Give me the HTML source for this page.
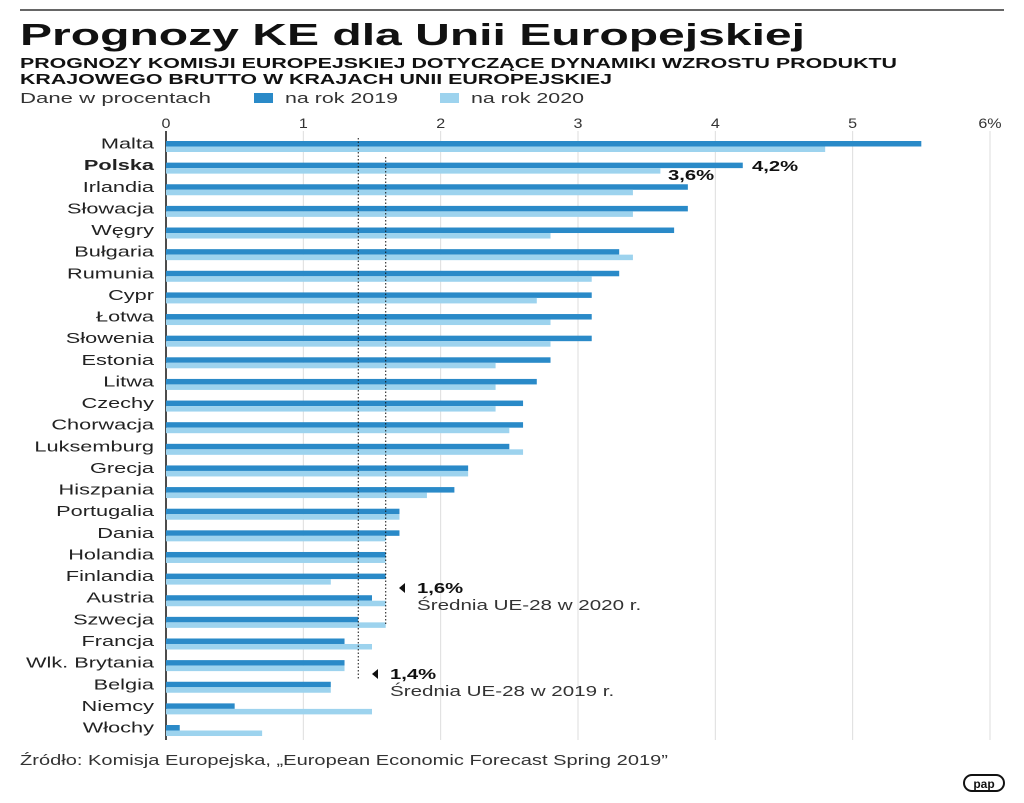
<!DOCTYPE html>
<html><head><meta charset="utf-8"><style>
body{margin:0;background:#fff;font-family:"Liberation Sans",sans-serif;}
svg text{font-family:"Liberation Sans",sans-serif;}
</style></head><body>
<svg width="1024" height="798" xmlns="http://www.w3.org/2000/svg">
<line x1="20" y1="10" x2="1004" y2="10" stroke="#333" stroke-width="1.5"/>
<text x="20" y="45" font-size="31" font-weight="bold" fill="#111" textLength="785" lengthAdjust="spacingAndGlyphs">Prognozy KE dla Unii Europejskiej</text>
<text x="20" y="68" font-size="14.5" font-weight="bold" fill="#111" textLength="877" lengthAdjust="spacingAndGlyphs">PROGNOZY KOMISJI EUROPEJSKIEJ DOTYCZĄCE DYNAMIKI WZROSTU PRODUKTU</text>
<text x="20" y="84" font-size="14.5" font-weight="bold" fill="#111" textLength="592" lengthAdjust="spacingAndGlyphs">KRAJOWEGO BRUTTO W KRAJACH UNII EUROPEJSKIEJ</text>
<text x="20" y="103" font-size="14.5" fill="#333" textLength="191" lengthAdjust="spacingAndGlyphs">Dane w procentach</text>
<rect x="254" y="93" width="19" height="10" fill="#2a8ac8"/>
<text x="285" y="103" font-size="14.5" fill="#333" textLength="113" lengthAdjust="spacingAndGlyphs">na rok 2019</text>
<rect x="440" y="93" width="19" height="10" fill="#9dd3ee"/>
<text x="471" y="103" font-size="14.5" fill="#333" textLength="113" lengthAdjust="spacingAndGlyphs">na rok 2020</text>
<g id="plot"></g>
<text x="20" y="765" font-size="14.5" fill="#333" textLength="648" lengthAdjust="spacingAndGlyphs">Źródło: Komisja Europejska, „European Economic Forecast Spring 2019”</text>
<rect x="964" y="775" width="40" height="16" rx="8" fill="none" stroke="#111" stroke-width="2"/>
<text x="984" y="788" font-size="12" font-weight="bold" text-anchor="middle" fill="#111">pap</text>
</svg>
<script>
const countries=["Malta","Polska","Irlandia","Słowacja","Węgry","Bułgaria","Rumunia","Cypr","Łotwa","Słowenia","Estonia","Litwa","Czechy","Chorwacja","Luksemburg","Grecja","Hiszpania","Portugalia","Dania","Holandia","Finlandia","Austria","Szwecja","Francja","Wlk. Brytania","Belgia","Niemcy","Włochy"];
const v2019=[5.5,4.2,3.8,3.8,3.7,3.3,3.3,3.1,3.1,3.1,2.8,2.7,2.6,2.6,2.5,2.2,2.1,1.7,1.7,1.6,1.6,1.5,1.4,1.3,1.3,1.2,0.5,0.1];
const v2020=[4.8,3.6,3.4,3.4,2.8,3.4,3.1,2.7,2.8,2.8,2.4,2.4,2.4,2.5,2.6,2.2,1.9,1.7,1.6,1.6,1.2,1.6,1.6,1.5,1.3,1.2,1.5,0.7];
const ticks=[0,1,2,3,4,5,6];
const tickLabels=["0","1","2","3","4","5","6%"];
const avg2019=1.4, avg2020=1.6;
const NS="http://www.w3.org/2000/svg";
const g=document.getElementById("plot");
const x=v=>166+v*137.33;
const y=i=>143.5+i*21.63;
function mk(t,a,txt){const e=document.createElementNS(NS,t);for(const k in a)e.setAttribute(k,a[k]);if(txt!=null)e.textContent=txt;g.appendChild(e);return e;}
function st(px,py,sx,a,txt){a.x=0;a.y=0;a.transform=`translate(${px},${py}) scale(${sx},1)`;return mk("text",a,txt);}
ticks.forEach((t,i)=>{
 const l=mk("line",{x1:x(t),x2:x(t),y1:131,y2:740,stroke:i?"#ddd":"#111","stroke-width":i?1:1.5});
 
 
 const tx=st(x(t),128,1.15,{"font-size":14,"text-anchor":"middle",fill:"#333"},tickLabels[i]);
 
 
});
countries.forEach((c,i)=>{
 const t=st(154,y(i)+5,1.5,{"font-size":14.5,"text-anchor":"end",fill:"#222","font-weight":c==="Polska"?"bold":"normal"},c);
 
 
 const b1=mk("rect",{x:x(0),y:y(i)-2.5,width:x(v2019[i])-x(0),height:5.5,fill:"#2a8ac8"});
 
 
 const b2=mk("rect",{x:x(0),y:y(i)+3,width:x(v2020[i])-x(0),height:5.5,fill:"#9dd3ee"});
 
 
});
const d1=mk("line",{x1:x(avg2019),x2:x(avg2019),y1:138,y2:680,stroke:"#111","stroke-dasharray":"1.5,2"});


const d2=mk("line",{x1:x(avg2020),x2:x(avg2020),y1:157,y2:625,stroke:"#111","stroke-dasharray":"1.5,2"});


const p1=st(752,171,1.35,{"font-size":15,"font-weight":"bold",fill:"#111"},"4,2%");


const p2=st(668,180,1.35,{"font-size":15,"font-weight":"bold",fill:"#111"},"3,6%");


function ann(px,py,val,txt,name){
 const a=mk("path",{d:`M${px} ${py-5} L${px} ${py+5} L${px-6} ${py} Z`,fill:"#111"});
 
 
 const t1=st(px+12,py+5,1.35,{"font-size":15,"font-weight":"bold",fill:"#111"},val);
 
 
 const t2=st(px+12,py+22,1.42,{"font-size":14.5,fill:"#333"},txt);
 
 
}
ann(405,588,"1,6%","Średnia UE-28 w 2020 r.","avg-2020");
ann(378,674,"1,4%","Średnia UE-28 w 2019 r.","avg-2019");
</script>
</body></html>
